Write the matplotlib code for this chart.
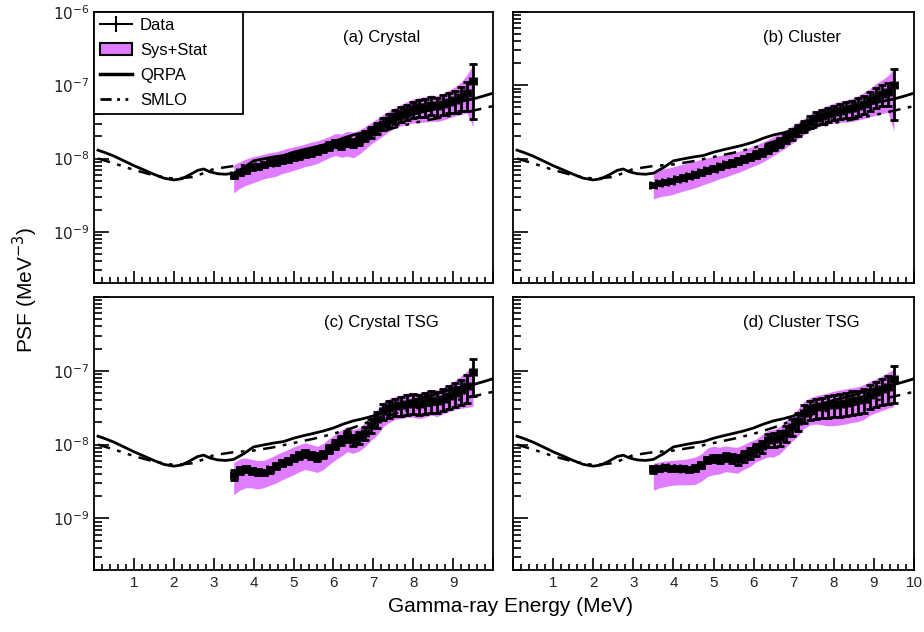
import numpy as np
import matplotlib
matplotlib.use("Agg")
import matplotlib.pyplot as plt
from matplotlib.patches import Patch
from matplotlib.ticker import FixedLocator, LogLocator, MultipleLocator, NullFormatter

plt.rcParams['font.family'] = ['Liberation Sans', 'DejaVu Sans']

# energy bins of the measured data (MeV)
energy = np.round(np.arange(3.5, 9.51, 0.15), 2)
half_bin = 0.075

# model curves, PSF in units of 1e-9 MeV^-3
qrpa_e = [0.1, 0.25, 0.5, 0.75, 1.0, 1.25, 1.5, 1.75, 2.0, 2.2, 2.4, 2.6, 2.75, 2.9, 3.1, 3.3,
          3.5, 3.75, 4.0, 4.25, 4.5, 4.75, 5.0, 5.25, 5.5, 5.75, 6.0, 6.25, 6.5, 6.75, 7.0,
          7.25, 7.5, 7.75, 8.0, 8.25, 8.5, 8.75, 9.0, 9.25, 9.5, 9.75, 10.0]
qrpa_v = [13.0, 12.2, 10.8, 9.3, 8.0, 7.0, 6.1, 5.4, 5.1, 5.3, 6.0, 6.9, 7.2, 6.6, 6.2, 6.1,
          6.3, 7.5, 9.3, 9.9, 10.5, 11.0, 12.2, 13.2, 14.2, 15.3, 16.8, 19.0, 21.0, 22.5, 24.5,
          28.0, 32.0, 36.0, 40.0, 43.5, 47.0, 52.0, 57.0, 61.0, 65.0, 71.0, 78.0]
smlo_e = [0.1, 0.5, 1.0, 1.5, 2.0, 2.5, 3.0, 3.5, 4.0, 4.5, 5.0, 5.5, 6.0, 6.5, 7.0, 7.5,
          8.0, 8.5, 9.0, 9.5, 10.0]
smlo_v = [10.0, 8.6, 7.0, 5.9, 5.3, 5.6, 7.2, 7.9, 8.3, 9.2, 10.5, 12.0, 14.0, 17.0, 21.5, 26.0,
          30.5, 34.5, 39.0, 45.0, 52.0]

titles = ["(a) Crystal", "(b) Cluster", "(c) Crystal TSG", "(d) Cluster TSG"]

# data points (1e-9 MeV^-3), stat error (%), sys+stat band low / high (1e-9 MeV^-3)
data_a = [5.9, 6.5, 7.0, 7.6, 7.9, 8.3, 8.8, 9.0, 9.6, 10.0, 10.5, 11.0, 11.6, 12.2, 12.8, 13.8,
          15.0, 16.2, 15.5, 16.8, 16.5, 18.0, 20.5, 23.0, 26.0, 30.0, 34.0, 38.0, 41.0, 44.0, 47.0,
          50.0, 51.0, 54.0, 52.0, 56.0, 60.0, 63.0, 70.0, 78.0, 115.0]
err_a = [9, 8, 8, 8, 8, 8, 8, 9, 9, 9, 10, 10, 10, 11, 11, 11, 12, 12, 12, 13, 13, 14, 15, 16,
         17, 18, 20, 22, 23, 24, 25, 26, 27, 28, 29, 30, 31, 33, 36, 42, 70]
lo_a = [3.4, 3.9, 4.3, 4.6, 4.9, 5.3, 5.5, 5.7, 6.2, 6.5, 6.9, 7.3, 7.8, 8.1, 8.6, 9.4, 10.3,
        11.0, 10.4, 10.8, 10.2, 11.5, 13.5, 15.8, 18.0, 20.5, 23.5, 26.5, 28.0, 29.5, 30.5, 31.0,
        31.5, 32.5, 32.0, 33.5, 36.0, 38.0, 40.0, 42.0, 27.0]
hi_a = [8.2, 9.0, 9.8, 10.5, 10.9, 11.4, 12.0, 12.3, 13.0, 13.8, 14.4, 15.0, 15.8, 16.8, 17.5,
        18.6, 20.0, 22.0, 21.5, 23.5, 23.0, 24.5, 27.5, 31.0, 35.0, 40.0, 45.0, 50.0, 55.0, 60.0,
        65.0, 68.0, 70.0, 74.0, 72.0, 78.0, 86.0, 95.0, 110.0, 140.0, 190.0]

data_b = [4.4, 4.6, 4.8, 5.0, 5.2, 5.5, 5.8, 6.1, 6.5, 6.9, 7.3, 7.8, 8.3, 8.8, 9.3, 9.9, 10.6,
          11.3, 12.2, 13.5, 15.0, 16.8, 19.0, 21.5, 24.5, 28.0, 32.0, 35.5, 38.0, 40.5, 43.0, 45.0,
          47.0, 49.0, 52.0, 56.0, 62.0, 70.0, 76.0, 80.0, 100.0]
err_b = [6, 6, 6, 6, 6, 7, 7, 7, 7, 8, 8, 8, 8, 9, 9, 10, 10, 11, 11, 12, 13, 14, 15, 16, 17,
         18, 19, 20, 21, 22, 23, 24, 25, 26, 27, 28, 29, 30, 32, 35, 66]
lo_b = [2.8, 3.0, 3.1, 3.2, 3.4, 3.6, 3.8, 4.0, 4.3, 4.6, 4.9, 5.3, 5.6, 6.0, 6.4, 6.9, 7.5,
        8.1, 8.8, 9.8, 11.0, 12.4, 14.0, 16.0, 18.5, 21.0, 24.0, 26.5, 28.0, 29.5, 30.5, 31.0,
        31.5, 32.0, 33.5, 35.0, 37.0, 39.0, 41.0, 43.0, 24.0]
hi_b = [6.6, 7.0, 7.3, 7.6, 8.0, 8.4, 8.8, 9.2, 9.8, 10.2, 10.6, 11.0, 11.4, 11.8, 12.4, 13.2,
        14.2, 15.2, 16.5, 18.0, 20.0, 22.0, 24.5, 27.5, 31.0, 35.0, 40.0, 45.0, 49.0, 53.0, 57.0,
        60.0, 63.0, 66.0, 72.0, 80.0, 90.0, 105.0, 118.0, 135.0, 170.0]

data_c = [3.9, 4.5, 4.7, 4.4, 4.3, 4.2, 4.6, 5.1, 5.6, 6.0, 6.6, 7.2, 7.7, 7.2, 6.8, 7.4, 8.8,
          10.0, 11.5, 13.0, 11.7, 12.5, 14.5, 18.5, 22.0, 28.5, 31.0, 33.0, 34.0, 36.0, 37.0, 36.0,
          38.0, 40.0, 39.0, 42.0, 46.0, 50.0, 55.0, 62.0, 95.0]
err_c = [15, 10, 9, 9, 9, 9, 9, 9, 9, 10, 10, 10, 11, 11, 12, 12, 13, 14, 15, 16, 17, 18, 20,
         22, 24, 25, 26, 27, 28, 29, 30, 30, 31, 32, 32, 33, 34, 35, 37, 40, 52]
lo_c = [2.1, 2.4, 2.6, 2.6, 2.5, 2.6, 2.8, 3.0, 3.3, 3.6, 3.9, 4.3, 4.6, 4.4, 4.2, 4.6, 5.4,
        6.2, 7.0, 8.0, 7.6, 8.2, 9.5, 11.5, 13.5, 17.5, 20.0, 22.0, 22.5, 23.5, 23.5, 22.5, 23.5,
        25.0, 24.0, 26.0, 28.0, 30.0, 31.0, 32.0, 33.0]
hi_c = [5.7, 6.4, 6.6, 6.3, 6.1, 6.1, 6.6, 7.2, 7.9, 8.5, 9.3, 10.0, 10.6, 10.0, 9.5, 10.4,
        12.2, 13.8, 15.8, 17.5, 16.0, 17.0, 20.0, 25.0, 30.0, 38.0, 42.0, 45.0, 47.0, 50.0, 51.0,
        50.0, 53.0, 56.0, 55.0, 60.0, 66.0, 74.0, 85.0, 100.0, 120.0]

data_d = [4.6, 4.8, 4.9, 4.8, 4.8, 4.7, 4.6, 4.8, 5.3, 6.2, 6.6, 6.4, 6.8, 6.5, 6.3, 7.0, 7.8,
          8.6, 9.5, 11.5, 11.8, 12.5, 14.5, 17.5, 21.0, 27.0, 30.0, 32.0, 33.0, 34.0, 35.0, 36.0,
          37.0, 39.0, 40.0, 42.0, 47.0, 52.0, 56.0, 60.0, 77.0]
err_d = [10, 8, 8, 8, 8, 8, 8, 9, 9, 10, 11, 12, 13, 14, 15, 16, 17, 18, 19, 20, 22, 24, 25,
         26, 27, 28, 29, 30, 31, 32, 33, 34, 34, 35, 35, 36, 36, 37, 38, 40, 52]
lo_d = [2.4, 2.6, 2.7, 2.8, 2.85, 2.85, 2.85, 2.9, 3.2, 3.7, 3.9, 4.0, 4.3, 4.2, 4.1, 4.6, 5.0,
        5.8, 6.3, 6.8, 6.8, 7.5, 9.0, 11.0, 13.0, 16.5, 18.5, 19.0, 18.5, 18.0, 18.0, 18.5, 19.0,
        20.0, 20.5, 22.0, 25.0, 27.0, 29.0, 31.0, 33.0]
hi_d = [5.6, 5.8, 6.0, 6.1, 6.2, 6.3, 6.5, 6.8, 7.5, 9.0, 9.5, 9.2, 9.6, 9.3, 9.2, 10.0, 11.0,
        11.8, 13.5, 15.5, 16.0, 17.5, 21.0, 25.0, 30.0, 38.0, 43.0, 46.0, 48.0, 50.0, 53.0, 55.0,
        57.0, 59.0, 61.0, 65.0, 72.0, 78.0, 85.0, 95.0, 105.0]

panels = [(data_a, err_a, lo_a, hi_a), (data_b, err_b, lo_b, hi_b),
          (data_c, err_c, lo_c, hi_c), (data_d, err_d, lo_d, hi_d)]

band_color = "#e07cff"
W, H = 924, 632
fig = plt.figure(figsize=(W / 100, H / 100), dpi=100)

# axes boxes in pixels: left, top, right, bottom
boxes = [(94, 12, 493, 283), (513, 12, 914, 283), (94, 297, 493, 570), (513, 297, 914, 570)]

for i, (box, title, (dat, err, lo, hi)) in enumerate(zip(boxes, titles, panels)):
    l, t, r, b = box
    ax = fig.add_axes([l / W, 1 - b / H, (r - l) / W, (b - t) / H])
    scale = 1e-9
    y = np.array(dat) * scale
    ax.fill_between(energy, np.array(lo) * scale, np.array(hi) * scale,
                    color=band_color, lw=0, zorder=1)
    ax.plot(qrpa_e, np.array(qrpa_v) * scale, color="black", lw=2.0, zorder=3)
    ax.plot(smlo_e, np.array(smlo_v) * scale, color="black", lw=1.8,
            ls=(0, (5, 3, 1.5, 3, 1.5, 3)), zorder=3)
    ax.errorbar(energy, y, yerr=y * np.array(err) / 100, xerr=half_bin, fmt="s",
                ms=3.5, color="black", ecolor="black", elinewidth=2.0, capsize=2.6,
                capthick=2.0, zorder=4)

    ax.set_yscale("log")
    ax.set_xlim(0, 10)
    ax.set_ylim(2e-10, 1e-6)
    ax.xaxis.set_major_locator(MultipleLocator(1))
    ax.xaxis.set_minor_locator(MultipleLocator(0.2))
    ax.yaxis.set_major_locator(FixedLocator([1e-9, 1e-8, 1e-7, 1e-6]))
    ax.yaxis.set_minor_locator(LogLocator(base=10, subs=np.arange(2, 10), numticks=20))
    ax.yaxis.set_minor_formatter(NullFormatter())
    ax.tick_params(which="both", direction="in", top=False, right=False, colors="black",
                   labelsize=11, width=1.2, labelcolor="#222222")
    ax.tick_params(axis="y", which="major", length=11)
    ax.tick_params(axis="y", which="minor", length=6)
    ax.tick_params(axis="x", which="major", length=9, pad=4)
    ax.tick_params(axis="x", which="minor", length=4)
    for s in ax.spines.values():
        s.set_linewidth(1.3)

    if i == 0:
        ax.set_yticks([1e-9, 1e-8, 1e-7, 1e-6])
        ax.set_yticklabels(["$10^{-9}$", "$10^{-8}$", "$10^{-7}$", "$10^{-6}$"])
    elif i == 2:
        ax.set_yticks([1e-9, 1e-8, 1e-7, 1e-6])
        ax.set_yticklabels(["$10^{-9}$", "$10^{-8}$", "$10^{-7}$", ""])
    else:
        ax.set_yticklabels([])
    if i == 2:
        ax.set_xticks(range(0, 11))
        ax.set_xticklabels([""] + [str(k) for k in range(1, 10)] + [""])
    elif i == 3:
        ax.set_xticks(range(0, 11))
        ax.set_xticklabels([""] + [str(k) for k in range(1, 11)])
    else:
        ax.set_xticklabels([])

    ax.text(0.72, 0.905, title, transform=ax.transAxes, ha="center", va="center", fontsize=12)

    if i == 0:
        data_handle = ax.errorbar([], [], yerr=[], fmt="none", ecolor="black",
                                  elinewidth=1.5, capsize=3, capthick=1.5)
        handles = [(plt.Line2D([], [], color="black", lw=1.5), data_handle),
                   Patch(facecolor=band_color, edgecolor="black", lw=1.5),
                   plt.Line2D([], [], color="black", lw=2.5),
                   plt.Line2D([], [], color="black", lw=2.0, ls=(0, (4, 2, 1, 2, 1, 2)))]
        leg = ax.legend(handles, ["Data", "Sys+Stat", "QRPA", "SMLO"], loc="upper left",
                        bbox_to_anchor=(0, 0.5, 149 / 399, 0.5), mode="expand",
                        borderaxespad=0, fancybox=False,
                        edgecolor="black", fontsize=12, framealpha=1, handlelength=1.9,
                        handletextpad=0.5, labelspacing=0.6, borderpad=0.35)
        leg.get_frame().set_linewidth(1.3)

fig.text(25 / W, 1 - 290 / H, "PSF (MeV$^{-3}$)", rotation=90, ha="center", va="center",
         fontsize=15)
fig.text(510 / W, 1 - 606 / H, "Gamma-ray Energy (MeV)", ha="center", va="center", fontsize=15)

fig.savefig("out.png", dpi=100)
